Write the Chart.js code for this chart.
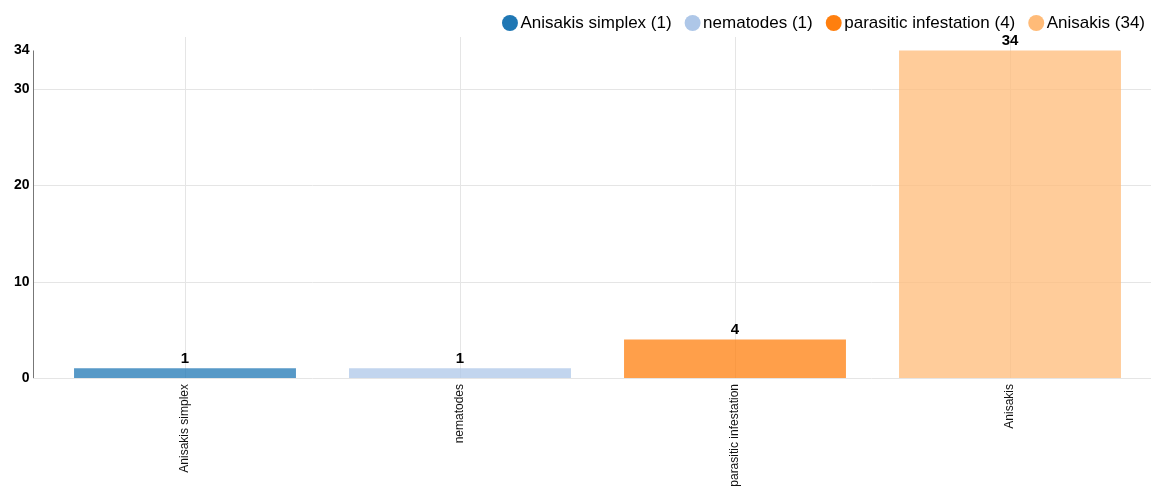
<!DOCTYPE html>
<html>
<head>
<meta charset="utf-8">
<script src="https://cdn.jsdelivr.net/npm/chart.js@4"></script>
<style>
html,body{margin:0;padding:0;background:#fff;}
#wrap{width:1151px;height:488px;position:relative;}
</style>
</head>
<body>
<div id="wrap"><canvas id="c"></canvas></div>
<script>
const categories = ["Anisakis simplex", "nematodes", "parasitic infestation", "Anisakis"];
const counts = [1, 1, 4, 34];
const yTickValues = [0, 10, 20, 30, 34];
const gridValues = [0, 10, 20, 30];
const barColors = ["#1f77b4", "#aec7e8", "#ff7f0e", "#ffbb78"];

const FONT = '"Liberation Sans", Arial, sans-serif';

function alpha(hex, a){
  const n = parseInt(hex.slice(1),16);
  return `rgba(${(n>>16)&255},${(n>>8)&255},${n&255},${a})`;
}

const decor = {
  id: 'decor',
  afterInit(chart){
    const lg = chart.legend;
    if (lg) {
      const origFit = lg.fit.bind(lg);
      lg.fit = function(){ origFit(); this.height = 33; };
    }
  },
  afterLayout(chart){
    const lg = chart.legend;
    if (lg) { lg.top = -4.5; lg.right = 1164; }
  },
  beforeDatasetsDraw(chart){
    const ctx = chart.ctx, y = chart.scales.y;
    ctx.save();
    ctx.lineWidth = 1;
    ctx.strokeStyle = '#e5e5e5';
    gridValues.forEach(v=>{
      const py = Math.round(y.getPixelForValue(v)) + 0.5;
      ctx.beginPath(); ctx.moveTo(33, py); ctx.lineTo(1151, py); ctx.stroke();
    });
    ctx.strokeStyle = '#777';
    ctx.beginPath();
    ctx.moveTo(33.5, y.getPixelForValue(34));
    ctx.lineTo(33.5, y.getPixelForValue(0));
    ctx.stroke();
    ctx.restore();
  },
  afterDatasetsDraw(chart){
    const ctx = chart.ctx;
    const meta = chart.getDatasetMeta(0);
    ctx.save();
    ctx.font = 'bold 15px ' + FONT;
    ctx.fillStyle = '#000';
    ctx.textAlign = 'center';
    ctx.textBaseline = 'bottom';
    meta.data.forEach((bar, i)=>{
      ctx.fillText(String(counts[i]), bar.x, bar.y - 2);
    });
    ctx.restore();
  }
};

new Chart(document.getElementById('c'), {
  type: 'bar',
  data: {
    labels: categories,
    datasets: [{
      data: counts,
      backgroundColor: barColors.map(c=>alpha(c,0.75)),
      borderWidth: 0,
      categoryPercentage: 1,
      barPercentage: 0.807
    }]
  },
  options: {
    responsive: true,
    maintainAspectRatio: false,
    animation: false,
    layout: { padding: { left: 0, right: 3.5, top: 4, bottom: 0 } },
    plugins: {
      tooltip: { enabled: false },
      legend: {
        display: true,
        position: 'top',
        align: 'end',
        onClick: null,
        labels: {
          usePointStyle: true,
          boxWidth: 4,
          boxHeight: 11.3,
          padding: 19,
          color: '#222',
          font: { family: FONT, size: 17 },
          generateLabels(){
            return categories.map((c,i)=>({
              text: `${c} (${counts[i]})`,
              fillStyle: barColors[i],
              strokeStyle: barColors[i],
              lineWidth: 0,
              pointStyle: 'circle',
              hidden: false,
              datasetIndex: 0,
              index: i
            }));
          }
        }
      }
    },
    scales: {
      x: {
        offset: true,
        grid: { display: true, offset: false, color: '#e5e5e5', drawTicks: false },
        border: { display: false },
        ticks: {
          minRotation: 90, maxRotation: 90, autoSkip: false, padding: 6,
          color: '#111',
          font: { family: FONT, size: 12 }
        },
        afterFit(s){ s.height = 110; }
      },
      y: {
        min: 0, max: 35.4,
        grid: { display: false, drawTicks: false },
        border: { display: false },
        afterBuildTicks(s){ s.ticks = yTickValues.map(v=>({value:v})); },
        ticks: {
          padding: 18,
          color: '#000',
          font: { family: FONT, size: 14, weight: 'bold' }
        },
        afterFit(s){ s.width = 47.5; }
      }
    }
  },
  plugins: [decor]
});
</script>
</body>
</html>
